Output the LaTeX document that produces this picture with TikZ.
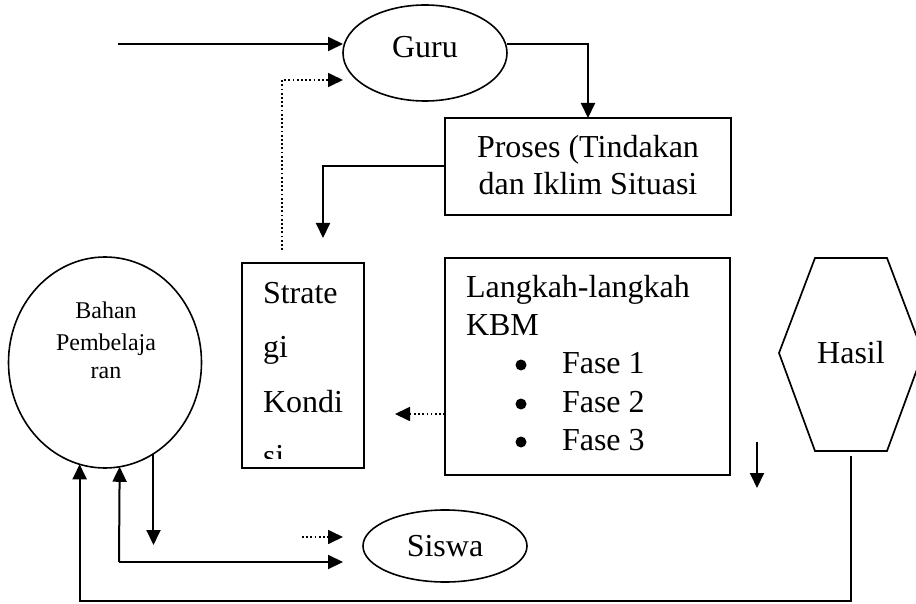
\documentclass[tikz,border=0pt]{standalone}
\usepackage{fontspec}
\setmainfont{Liberation Serif}
\usetikzlibrary{arrows.meta,shapes.geometric}

\begin{document}
\begin{tikzpicture}[x=1pt,y=-1pt,
  every node/.style={font=\fontsize{32}{37}\selectfont, inner sep=0pt, outer sep=0pt},
  small/.style={font=\fontsize{24}{28}\selectfont},
  line/.style={line width=1.7pt},
  arr/.style={line width=2pt, -{Triangle[length=15pt,width=14pt]}},
  dotarr/.style={line width=1.7pt, dash pattern=on 1.7pt off 2.5pt, -{Triangle[length=15pt,width=14pt]}},
  box/.style={draw, line width=2pt, rectangle},
  oval/.style={draw, ellipse, line width=1.6pt},
  bulletdot/.style={circle, fill, minimum size=11pt}
]
\useasboundingbox (0,0) rectangle (916,604);

% ---- shapes ----
\node[oval, minimum width=164pt, minimum height=96pt] (guru) at (425,53) {};
\node[anchor=base] (gurutext) at (425,58) {Guru};

\node[box, minimum width=286pt, minimum height=97pt] (proses) at (588,166.5) {};
\node[anchor=base] (proses1) at (588,158) {Proses (Tindakan};
\node[anchor=base] (proses2) at (588,195) {dan Iklim Situasi};

\node[box, minimum width=122pt, minimum height=205pt] (strat) at (303,365.5) {};
\begin{scope}
  \clip (243,264) rectangle (363,458);
  \node[anchor=base west] (strat1) at (263,303) {Strate};
  \node[anchor=base west] (strat2) at (263,357.5) {gi};
  \node[anchor=base west] (strat3) at (263,412) {Kondi};
  \node[anchor=base west] (strat4) at (263,466.5) {si};
\end{scope}

\node[box, minimum width=285pt, minimum height=217pt] (langkah) at (587.5,366.5) {};
\node[anchor=base west] (lk1) at (466,298) {Langkah-langkah};
\node[anchor=base west] (lk2) at (466,335) {KBM};
\foreach \y/\n in {373/1, 412/2, 450/3} {
  \node[bulletdot] (bul\n) at (521,\y-8) {};
  \node[anchor=base west] (fase\n) at (562,\y) {Fase \n};
}

\begin{scope}
  \clip (0,0) rectangle (916,604);
  \draw[line] (815,258) coordinate (hx1) -- (887,258) coordinate (hx2)
    -- (923,353) coordinate (hx3) -- (887,451) coordinate (hx4)
    -- (815,451) coordinate (hx5) -- (779,353) coordinate (hx6) -- cycle;
\end{scope}
\node[anchor=base] (hasil) at (851,363) {Hasil};

\node[oval, minimum width=193pt, minimum height=211pt] (bahan) at (105,362.5) {};
\node[small, anchor=base] (bahan1) at (106,318) {Bahan};
\node[small, anchor=base] (bahan2) at (106,350) {Pembelaja};
\node[small, anchor=base] (bahan3) at (106,378) {ran};

\node[oval, minimum width=164pt, minimum height=72pt] (siswa) at (445,546) {};
\node[anchor=base] (siswatext) at (445,556) {Siswa};

% ---- free ends ----
\coordinate (inStart) at (118,44);
\coordinate (procTip) at (323,238);
\coordinate (dotStart) at (282,250);
\coordinate (dotTip) at (343,80);
\coordinate (lkTip) at (395,414);
\coordinate (downA) at (757,442);
\coordinate (downB) at (757,488);
\coordinate (hasilStart) at (851,456);
\coordinate (hasilCorner) at (851,601);
\coordinate (loopCorner) at (119,562);
\coordinate (loopTip) at (343,562);
\coordinate (bahanDown) at (0,545);
\coordinate (dotSisStart) at (302,537);
\coordinate (dotSisTip) at (343,537);

% ---- connectors ----
\draw[arr] (inStart) -- (guru.west |- inStart);
\draw[arr] (guru.east |- inStart) -| (proses.north);
\draw[arr] (proses.west) -| (procTip);
\draw[dotarr] (dotStart) |- (dotTip);
\draw[dotarr] (langkah.west |- lkTip) -- (lkTip);
\draw[arr] (downA) -- (downB);
\draw[arr] (hasilStart) -- (hasilCorner) -| (bahan.256);
\draw[arr] (loopCorner) -- (bahan.278);
\draw[arr] (loopCorner) -- (loopTip);
\draw[arr] (bahan.298) -- (bahan.298 |- bahanDown);
\draw[dotarr] (dotSisStart) -- (dotSisTip);
\end{tikzpicture}
\end{document}
